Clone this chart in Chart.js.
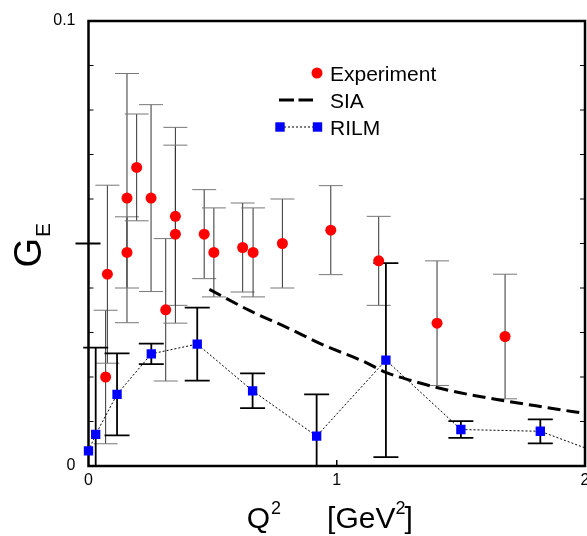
<!DOCTYPE html>
<html>
<head>
<meta charset="utf-8">
<script src="https://cdn.jsdelivr.net/npm/chart.js@4.4.1/dist/chart.umd.min.js"></script>
<style>
  html, body { margin: 0; padding: 0; background: #fff; overflow: hidden; }
  #wrap { position: relative; width: 597px; height: 536px; }
</style>
</head>
<body>
<div id="wrap"><canvas id="geChart"></canvas></div>
<script>
const FONT = '"Liberation Sans", Arial, Helvetica, sans-serif';

// measured G_E with its error
const expQ2 = [0.069, 0.076, 0.155, 0.155, 0.194, 0.252, 0.311, 0.35, 0.35, 0.466, 0.505, 0.621, 0.663, 0.781, 0.976, 1.169, 1.404, 1.678];
const expGE = [0.0200, 0.0431, 0.0602, 0.0480, 0.0671, 0.0602, 0.0351, 0.0561, 0.0521, 0.0521, 0.0480, 0.0491, 0.0480, 0.0500, 0.0530, 0.0461, 0.0321, 0.0291];
const expErr = [0.015, 0.020, 0.028, 0.008, 0.012, 0.021, 0.016, 0.020, 0.020, 0.010, 0.010, 0.010, 0.010, 0.010, 0.010, 0.010, 0.014, 0.014];

// RILM lattice points
const rilmQ2 = [0, 0.029, 0.115, 0.253, 0.438, 0.661, 0.919, 1.198, 1.5, 1.82, 2.1];
const rilmGE = [0.0034, 0.0071, 0.0161, 0.0252, 0.0274, 0.0169, 0.0067, 0.0238, 0.0082, 0.0078, 0.0020];
const rilmErr = [0, 0.0195, 0.0092, 0.0023, 0.0082, 0.0039, 0.0094, 0.0218, 0.0019, 0.0027, 0];

// SIA curve
const siaQ2 = [0.487, 0.65, 0.8, 0.95, 1.1, 1.2, 1.3, 1.45, 1.65, 1.85, 2.0];
const siaGE = [0.0397, 0.0349, 0.0311, 0.0271, 0.0237, 0.0210, 0.0192, 0.0170, 0.0149, 0.0131, 0.0118];

const xTicks = [0, 1, 2];
const xTickLabels = ['0', '1', '2'];
const yTicks = [0, 0.05, 0.1];
const yTickLabels = ['0', '', '0.1'];

const pts = (xs, ys) => xs.map((v, i) => ({ x: v, y: ys[i] }));

// box around the plot plus the inward ticks
const frame = {
  id: 'frame',
  beforeDatasetsDraw(chart) {
    const { ctx, chartArea: a, scales: { x, y } } = chart;
    ctx.save();
    ctx.strokeStyle = '#000';
    ctx.lineWidth = 1;
    for (let k = 1; k < 10; k++) {
      const py = y.getPixelForValue(k * 0.01);
      ctx.beginPath();
      ctx.moveTo(a.left, py); ctx.lineTo(a.left + 5, py);
      ctx.moveTo(a.right - 5, py); ctx.lineTo(a.right, py);
      ctx.stroke();
    }
    ctx.lineWidth = 1.5;
    ctx.beginPath();
    const px1 = x.getPixelForValue(1);
    ctx.moveTo(px1, a.bottom); ctx.lineTo(px1, a.bottom - 6);
    ctx.stroke();
    ctx.lineWidth = 2;
    const pmid = y.getPixelForValue(yTicks[1]);
    ctx.beginPath();
    ctx.moveTo(a.left - 13, pmid); ctx.lineTo(a.left + 12, pmid);
    ctx.stroke();
    ctx.lineWidth = 2.5;
    ctx.strokeRect(a.left, a.top, a.right - a.left, a.bottom - a.top);
    ctx.restore();
  }
};

// vertical error bars with caps, clipped to the plot
const errorBars = {
  id: 'errorBars',
  beforeDatasetsDraw(chart) {
    const { ctx, chartArea: a, scales: { x, y } } = chart;
    ctx.save();
    ctx.beginPath();
    ctx.rect(a.left - 15, a.top, a.right - a.left + 15, a.bottom - a.top);
    ctx.clip();
    chart.data.datasets.forEach(ds => {
      if (!ds.errors) return;
      ds.data.forEach((p, j) => {
        const e = ds.errors[j];
        if (!e) return;
        const px = x.getPixelForValue(p.x);
        const top = y.getPixelForValue(p.y + e);
        const bot = y.getPixelForValue(p.y - e);
        ctx.strokeStyle = ds.errColor;
        ctx.lineWidth = ds.errWidth;
        ctx.beginPath();
        ctx.moveTo(px, top); ctx.lineTo(px, bot);
        ctx.stroke();
        ctx.strokeStyle = ds.capColor;
        ctx.beginPath();
        ctx.moveTo(px - ds.capHalf, top); ctx.lineTo(px + ds.capHalf, top);
        ctx.moveTo(px - ds.capHalf, bot); ctx.lineTo(px + ds.capHalf, bot);
        ctx.stroke();
      });
    });
    ctx.restore();
  }
};

// legend in the upper part of the plot and the axis titles
const labels = {
  id: 'labels',
  afterDraw(chart) {
    const { ctx, chartArea: a } = chart;
    const tx = a.left + 241.5;
    const y0 = a.top + 52;
    ctx.save();
    ctx.font = '21px ' + FONT;
    ctx.fillStyle = '#000';
    ctx.textBaseline = 'alphabetic';
    chart.data.datasets.forEach((ds, i) => {
      const yy = y0 + i * 27;
      ctx.save();
      if (i === 0) {
        ctx.fillStyle = 'red';
        ctx.beginPath();
        ctx.arc(tx - 13, yy, 5.5, 0, Math.PI * 2);
        ctx.fill();
      } else if (i === 1) {
        ctx.strokeStyle = '#000';
        ctx.lineWidth = 3;
        ctx.setLineDash([15, 4.5]);
        ctx.beginPath();
        ctx.moveTo(tx - 51, yy); ctx.lineTo(tx - 17, yy);
        ctx.stroke();
      } else {
        ctx.strokeStyle = '#000';
        ctx.lineWidth = 1;
        ctx.setLineDash([2, 2]);
        ctx.beginPath();
        ctx.moveTo(tx - 50, yy); ctx.lineTo(tx - 12.5, yy);
        ctx.stroke();
        ctx.fillStyle = 'blue';
        ctx.fillRect(tx - 54.7, yy - 4.7, 9.4, 9.4);
        ctx.fillRect(tx - 17.2, yy - 4.7, 9.4, 9.4);
      }
      ctx.restore();
      ctx.fillText(ds.label, tx, yy + 7.5);
    });

    // Q^2 [GeV^2]
    const base = a.bottom + 62;
    let cx = (a.left + a.right) / 2 - 90;
    const big = '30px ' + FONT, small = '18px ' + FONT;
    ctx.font = big; ctx.fillText('Q', cx, base); cx += ctx.measureText('Q').width + 1;
    ctx.font = small; ctx.fillText('2', cx, base - 14); cx += ctx.measureText('2').width;
    cx += 46;
    ctx.font = big; ctx.fillText('[GeV', cx, base); cx += ctx.measureText('[GeV').width;
    ctx.font = small; ctx.fillText('2', cx, base - 14); cx += ctx.measureText('2').width - 1;
    ctx.font = big; ctx.fillText(']', cx, base);

    // G_E
    ctx.translate(a.left - 48, (a.top + a.bottom) / 2 + 24);
    ctx.rotate(-Math.PI / 2);
    ctx.font = '38px ' + FONT;
    ctx.fillText('G', 0, 0);
    const gw = ctx.measureText('G').width;
    ctx.font = '21px ' + FONT;
    ctx.fillText('E', gw + 1, 9);
    ctx.restore();
  }
};

new Chart(document.getElementById('geChart'), {
  type: 'scatter',
  data: {
    datasets: [
      {
        label: 'Experiment',
        data: pts(expQ2, expGE),
        errors: expErr,
        errColor: '#333', capColor: '#777', errWidth: 1, capHalf: 12,
        pointStyle: 'circle',
        pointRadius: 5.5,
        pointBorderWidth: 0,
        backgroundColor: 'red',
        showLine: false
      },
      {
        label: 'SIA',
        data: pts(siaQ2, siaGE),
        showLine: true,
        pointRadius: 0,
        borderColor: '#000',
        borderWidth: 3,
        borderDash: [13, 6],
        cubicInterpolationMode: 'monotone'
      },
      {
        label: 'RILM',
        data: pts(rilmQ2, rilmGE),
        errors: rilmErr,
        errColor: '#000', capColor: '#000', errWidth: 1.8, capHalf: 12.5,
        showLine: true,
        borderColor: '#000',
        borderWidth: 1,
        borderDash: [2, 2],
        pointStyle: 'rect',
        pointRadius: 6.6,
        pointBorderWidth: 0,
        backgroundColor: 'blue',
        clip: { left: 8, top: 0, right: 0, bottom: 8 }
      }
    ]
  },
  options: {
    responsive: true,
    maintainAspectRatio: false,
    animation: false,
    events: [],
    layout: { padding: { top: 21, right: 12, left: 0, bottom: 0 } },
    plugins: { legend: { display: false }, tooltip: { enabled: false } },
    scales: {
      x: {
        type: 'linear',
        min: 0, max: 2,
        afterBuildTicks: s => { s.ticks = xTicks.map(v => ({ value: v })); },
        ticks: {
          callback: (v, i) => xTickLabels[i],
          font: { size: 16, family: FONT },
          color: '#000',
          padding: 5,
          maxRotation: 0,
          autoSkip: false
        },
        grid: { display: false, drawTicks: false },
        border: { display: false },
        afterFit: s => { s.height = 70; s.paddingLeft = 0; s.paddingRight = 0; }
      },
      y: {
        type: 'linear',
        min: 0, max: 0.1,
        afterBuildTicks: s => { s.ticks = yTicks.map(v => ({ value: v })); },
        ticks: {
          callback: (v, i) => yTickLabels[i],
          font: { size: 16, family: FONT },
          color: '#000',
          padding: 13,
          autoSkip: false
        },
        grid: { display: false, drawTicks: false },
        border: { display: false },
        afterFit: s => { s.width = 88.5; s.paddingTop = 0; s.paddingBottom = 0; }
      }
    }
  },
  plugins: [frame, errorBars, labels]
});
</script>
</body>
</html>
